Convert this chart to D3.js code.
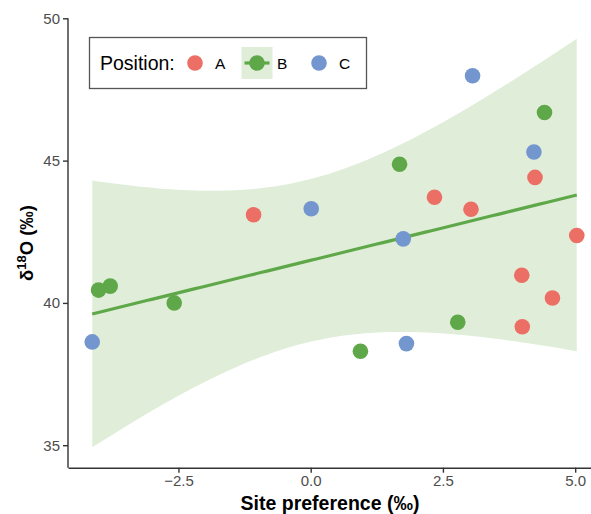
<!DOCTYPE html>
<html>
<head>
<meta charset="utf-8">
<script src="https://cdn.jsdelivr.net/npm/d3@7"></script>
<style>
  html, body { margin: 0; padding: 0; background: #ffffff; }
  svg { display: block; font-family: "Liberation Sans", Arial, Helvetica, sans-serif; }
</style>
</head>
<body>
<svg id="chart" width="591" height="514"></svg>
<script>
// Site preference vs. δ18O, by position
const positions = ["A", "B", "C"];
const positionColors = ["#EB6F64", "#5FA84A", "#7396CE"];

const siteA = [-1.08, 2.34, 3.03, 4.24, 5.03, 3.99, 4.57, 4.00];
const d18oA = [43.10, 43.71, 43.29, 44.41, 42.37, 40.97, 40.17, 39.16];
const siteB = [-4.01, -3.79, -2.58, 0.94, 1.68, 2.78, 4.42];
const d18oB = [40.45, 40.59, 40.00, 38.30, 44.87, 39.32, 46.69];
const siteC = [-4.13, 0.01, 1.75, 1.81, 3.06, 4.22];
const d18oC = [38.63, 43.31, 42.25, 38.57, 47.98, 45.30];

const xTicks = [-2.5, 0, 2.5, 5];
const yTicks = [35, 40, 45, 50];

const fitGroup = "B";      // regression (lm, 95% CI) drawn for this position
const ciLevel = 0.95;

// ---------- assemble rows ----------
const groups = { A: [siteA, d18oA], B: [siteB, d18oB], C: [siteC, d18oC] };
const rows = [];
positions.forEach(p => {
  const [xs, ys] = groups[p];
  xs.forEach((x, i) => rows.push({ pos: p, x: x, y: ys[i] }));
});

// ---------- t distribution helpers ----------
function lgamma(z) {
  const g = 7, c = [0.99999999999980993, 676.5203681218851, -1259.1392167224028,
    771.32342877765313, -176.61502916214059, 12.507343278686905,
    -0.13857109526572012, 9.9843695780195716e-6, 1.5056327351493116e-7];
  if (z < 0.5) return Math.log(Math.PI / Math.sin(Math.PI * z)) - lgamma(1 - z);
  z -= 1;
  let a = c[0];
  const t = z + g + 0.5;
  for (let i = 1; i < g + 2; i++) a += c[i] / (z + i);
  return 0.5 * Math.log(2 * Math.PI) + (z + 0.5) * Math.log(t) - t + Math.log(a);
}
function tPdf(t, df) {
  return Math.exp(lgamma((df + 1) / 2) - lgamma(df / 2)) / Math.sqrt(df * Math.PI) *
    Math.pow(1 + t * t / df, -(df + 1) / 2);
}
function tCdf(x, df) {
  const n = 2000, h = x / n;
  let s = tPdf(0, df) + tPdf(x, df);
  for (let i = 1; i < n; i++) s += (i % 2 ? 4 : 2) * tPdf(i * h, df);
  return 0.5 + s * h / 3;
}
function tQuantile(p, df) {
  let lo = 0, hi = 60;
  for (let k = 0; k < 60; k++) {
    const mid = (lo + hi) / 2;
    if (tCdf(mid, df) < p) lo = mid; else hi = mid;
  }
  return (lo + hi) / 2;
}

// ---------- linear fit ----------
const fx = groups[fitGroup][0], fy = groups[fitGroup][1];
const n = fx.length;
const mx = d3.mean(fx), my = d3.mean(fy);
const sxx = d3.sum(fx, x => (x - mx) * (x - mx));
const sxy = d3.sum(fx.map((x, i) => (x - mx) * (fy[i] - my)));
const slope = sxy / sxx;
const intercept = my - slope * mx;
const sse = d3.sum(fx.map((x, i) => Math.pow(fy[i] - (intercept + slope * x), 2)));
const sRes = Math.sqrt(sse / (n - 2));
const tCrit = tQuantile(1 - (1 - ciLevel) / 2, n - 2);

const xExtent = d3.extent(rows, d => d.x);
const fitPts = d3.range(0, 81).map(i => {
  const x = xExtent[0] + (xExtent[1] - xExtent[0]) * i / 80;
  const yhat = intercept + slope * x;
  const se = sRes * Math.sqrt(1 / n + (x - mx) * (x - mx) / sxx);
  return { x: x, y: yhat, lo: yhat - tCrit * se, hi: yhat + tCrit * se };
});

// ---------- scales ----------
const svg = d3.select("#chart");
const panel = { left: 68, top: 18.3, bottom: 467.7 };
const xPad = (xExtent[1] - xExtent[0]) * 0.05;
const x = d3.scaleLinear()
  .domain([xExtent[0] - xPad, xExtent[1] + xPad])
  .range([panel.left, 601]);
const y = d3.scaleLinear()
  .domain([34.21, 50])
  .range([panel.bottom, panel.top]);

const color = d3.scaleOrdinal().domain(positions).range(positionColors);
const ribbonFill = "#E0EED9";

// ---------- smooth ----------
svg.append("path")
  .datum(fitPts)
  .attr("fill", ribbonFill)
  .attr("d", d3.area().x(d => x(d.x)).y0(d => y(d.lo)).y1(d => y(d.hi)));

svg.append("path")
  .datum(fitPts)
  .attr("fill", "none")
  .attr("stroke", color(fitGroup))
  .attr("stroke-width", 3.2)
  .attr("d", d3.line().x(d => x(d.x)).y(d => y(d.y)));

// ---------- points ----------
svg.append("g")
  .selectAll("circle")
  .data(rows)
  .join("circle")
  .attr("cx", d => x(d.x))
  .attr("cy", d => y(d.y))
  .attr("r", 7.8)
  .attr("fill", d => color(d.pos));

// ---------- axes ----------
const axisColor = "#333333";
const tickText = "#4D4D4D";

const yAxis = svg.append("g")
  .attr("transform", `translate(${panel.left},0)`)
  .call(d3.axisLeft(y).tickValues(yTicks).tickSize(5).tickSizeOuter(0).tickPadding(3).tickFormat(d3.format("d")));
const xAxis = svg.append("g")
  .attr("transform", `translate(0,${panel.bottom})`)
  .call(d3.axisBottom(x).tickValues(xTicks).tickSize(5).tickSizeOuter(0).tickPadding(3).tickFormat(d3.format(".1f")));

[yAxis, xAxis].forEach(g => {
  g.select(".domain").attr("stroke", axisColor).attr("stroke-width", 1.4);
  g.selectAll(".tick line").attr("stroke", axisColor).attr("stroke-width", 1.4);
  g.selectAll(".tick text").attr("fill", tickText).style("font-size", "15px")
    .style("font-family", "'Liberation Sans', Arial, sans-serif");
});
// y domain line spans the full panel height
yAxis.select(".domain").attr("d", `M0,${panel.top}V${panel.bottom}`);

// ---------- axis titles ----------
svg.append("text")
  .attr("x", 330)
  .attr("y", 510)
  .attr("text-anchor", "middle")
  .attr("font-weight", "bold")
  .attr("font-size", 19.5)
  .attr("fill", "#000")
  .text("Site preference (‰)");

const yTitle = svg.append("text")
  .attr("transform", "translate(33,243) rotate(-90)")
  .attr("text-anchor", "middle")
  .attr("font-weight", "bold")
  .attr("font-size", 18.5)
  .attr("fill", "#000");
yTitle.append("tspan").text("δ");
yTitle.append("tspan").attr("dy", -7).attr("font-size", 13).text("18");
yTitle.append("tspan").attr("dy", 7).text("O (‰)");

// ---------- legend ----------
const legend = svg.append("g");
legend.append("rect")
  .attr("x", 89.5).attr("y", 37.5)
  .attr("width", 277).attr("height", 51)
  .attr("fill", "#fff")
  .attr("stroke", "#555555")
  .attr("stroke-width", 1.3);
legend.append("text")
  .attr("x", 100).attr("y", 69.5)
  .attr("font-size", 19.5).attr("fill", "#000")
  .text("Position:");

const keyX = { A: 195, B: 257, C: 319 };
positions.forEach(p => {
  const cx = keyX[p], cy = 63;
  if (p === fitGroup) {
    legend.append("rect")
      .attr("x", cx - 15.5).attr("y", cy - 16)
      .attr("width", 31).attr("height", 32)
      .attr("fill", ribbonFill);
    legend.append("line")
      .attr("x1", cx - 12.5).attr("x2", cx + 12.5)
      .attr("y1", cy).attr("y2", cy)
      .attr("stroke", color(p)).attr("stroke-width", 3.2);
  }
  legend.append("circle")
    .attr("cx", cx).attr("cy", cy).attr("r", 7.8)
    .attr("fill", color(p));
  legend.append("text")
    .attr("x", cx + 20).attr("y", 69)
    .attr("font-size", 15.5).attr("fill", "#000")
    .text(p);
});
</script>
</body>
</html>
